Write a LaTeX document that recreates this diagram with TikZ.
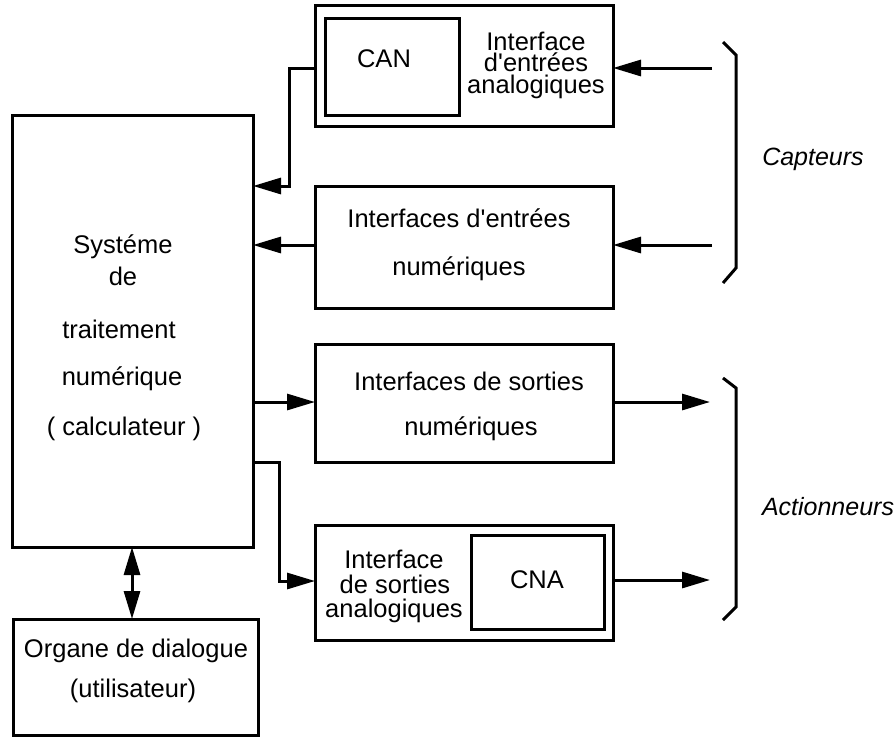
\documentclass[tikz,border=0pt]{standalone}
\usepackage{fontspec}
\setmainfont{Liberation Sans}
\usetikzlibrary{arrows.meta}
\begin{document}
\begin{tikzpicture}[x=1pt,y=-1pt,
  box/.style={draw, line width=3pt, rectangle, inner sep=0pt, outer sep=0pt},
  lbl/.style={anchor=base, inner sep=0pt, font=\fontsize{25.5}{29}\selectfont},
  stack/.style={anchor=base, inner sep=0pt, align=center, font=\fontsize{25.5}{21.5}\selectfont},
  lab/.style={anchor=base, inner sep=0pt, font=\fontsize{25}{29}\selectfont\itshape},
  wire/.style={line width=3pt},
  arr/.style={wire, -{Triangle[length=28pt,width=16pt]}},
  dbl/.style={wire, {Triangle[length=28pt,width=16pt]}-{Triangle[length=28pt,width=16pt]}},
  brace/.style={line width=3pt, line join=miter}]
\useasboundingbox (0,0) rectangle (896,737);

% blocks
\node[box, minimum width=240.5pt, minimum height=432pt] (sys) at (132.75,331) {};
\node[box, minimum width=245pt, minimum height=116pt] (org) at (135.5,677) {};
\node[box, minimum width=298pt, minimum height=121pt] (canbox) at (464,65.5) {};
\node[box, minimum width=134pt, minimum height=97pt] (can) at (392,66.5) {};
\node[box, minimum width=298pt, minimum height=122pt] (ein) at (464,247) {};
\node[box, minimum width=298pt, minimum height=118pt] (son) at (464,403) {};
\node[box, minimum width=298pt, minimum height=115pt] (cnabox) at (464,582.5) {};
\node[box, minimum width=133pt, minimum height=94pt] (cna) at (537.5,582) {};

% texts of the blocks (a stacked node sits on the baseline of its last line)
\node[lbl] (t1) at (123,253) {Systéme};
\node[lbl] (t2) at (123,285) {de};
\node[lbl] (t3) at (119,338) {traitement};
\node[lbl] (t4) at (122,385) {numérique};
\node[lbl] (t5) at (124,435) {( calculateur )};
\node[lbl] (o1) at (136,657) {Organe de dialogue};
\node[lbl] (o2) at (133,697) {(utilisateur)};
\node[lbl] (cant) at (384,67) {CAN};
\node[stack] (at) at (536,93) {Interface\\d\textquotesingle entrées\\analogiques};
\node[lbl] (e1t) at (459,227) {Interfaces d\textquotesingle entrées};
\node[lbl] (e2t) at (459,275) {numériques};
\node[lbl] (s1t) at (469,390) {Interfaces de sorties};
\node[lbl] (s2t) at (471,435) {numériques};
\node[lbl] (b1t) at (394,568) {Interface};
\node[lbl] (b2t) at (395,593) {de sorties};
\node[lbl] (b3t) at (394,617) {analogiques};
\node[lbl] (cnat) at (537,588) {CNA};

% side labels
\node[lab] (capt) at (813,165) {Capteurs};
\node[lab] (act) at (828,515) {Actionneurs};

% free ends and bends
\coordinate (c1) at (712,68);
\coordinate (c2) at (712,245);
\coordinate (q1) at (710,402);
\coordinate (q2) at (710,580);
\coordinate (k1) at (289,186);
\coordinate (k2) at (279,462);

% connectors
\draw[arr] (c1) -- (canbox.east |- c1);
\draw[arr] (c2) -- (ein.east |- c2);
\draw[arr] (canbox.west |- 0,68) -| (k1) -- (sys.east |- k1);
\draw[arr] (ein.west |- 0,245) -- (sys.east |- 0,245);
\draw[arr] (sys.east |- 0,402) -- (son.west |- 0,402);
\draw[arr] (son.east |- q1) -- (q1);
\draw[arr] (sys.east |- k2) -- (k2) |- (cnabox.west |- 0,581);
\draw[arr] (cnabox.east |- q2) -- (q2);
\draw[dbl] (sys.south -| 132,0) -- (org.north -| 132,0);

% braces
\draw[brace] (723,42) -- (736,55) -- (736,268) -- (723,283);
\draw[brace] (723,378) -- (736,388) -- (736,607) -- (723,620);
\end{tikzpicture}
\end{document}
